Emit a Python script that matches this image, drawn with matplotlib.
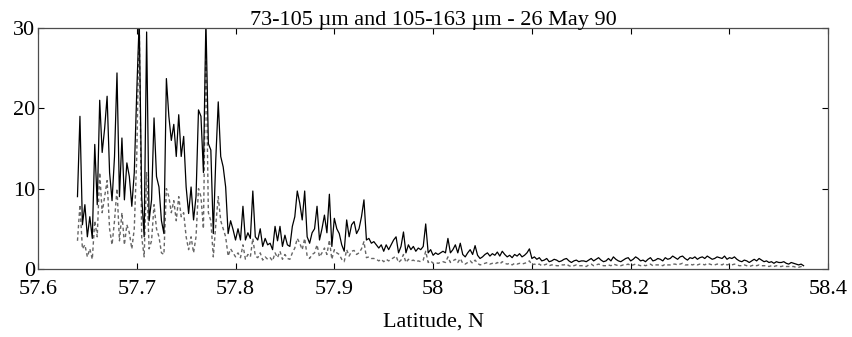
import numpy as np
import matplotlib
matplotlib.use("Agg")
import matplotlib.pyplot as plt

plt.rcParams['font.family'] = ['Liberation Serif', 'DejaVu Serif']

# counts along the transect, one value every 0.0025 deg latitude from 57.64 N
# 73-105 um (solid)
solid = [
    9.0, 19.0, 5.5, 8.0, 4.0, 6.5, 3.8, 15.5, 8.0, 21.0, 14.5, 17.5, 21.5, 12.0, 8.5, 14.0, 24.4, 9.0, 16.3, 8.6,
    13.2, 11.5, 7.8, 12.0, 22.0, 31.0, 9.0, 4.0, 29.5, 6.0, 8.6, 18.8, 11.5, 10.2, 6.0, 4.4, 23.7, 19.0, 16.0, 18.0,
    14.0, 19.2, 14.0, 16.5, 10.2, 6.9, 10.2, 6.1, 9.0, 19.8, 19.0, 12.0, 31.0, 15.6, 14.8, 4.4, 13.6, 20.8, 14.0, 12.7,
    10.2, 4.4, 6.0, 4.9, 3.6, 5.0, 3.6, 7.8, 3.6, 4.5, 3.8, 9.7, 4.0, 3.6, 5.0, 2.8, 3.8, 3.0, 3.2, 2.4,
    5.3, 3.5, 5.3, 2.8, 4.2, 3.0, 2.8, 5.3, 6.5, 9.7, 8.2, 6.1, 9.7, 4.0, 3.2, 4.5, 5.0, 7.8, 3.6, 5.0,
    6.7, 4.5, 9.3, 2.8, 6.3, 5.0, 4.4, 3.0, 2.2, 6.1, 4.0, 5.5, 5.9, 4.4, 5.0, 6.5, 8.6, 3.6, 3.8, 3.2,
    3.4, 3.0, 2.6, 3.0, 2.2, 3.0, 2.4, 3.0, 3.6, 4.0, 2.0, 2.8, 4.6, 2.0, 3.0, 2.4, 2.8, 2.2, 2.6, 2.4,
    2.8, 5.6, 2.0, 2.4, 1.7, 2.0, 1.8, 2.0, 2.2, 2.0, 3.8, 2.0, 2.4, 3.0, 2.0, 3.2, 1.8, 1.5, 2.0, 2.4,
    1.8, 2.9, 1.7, 1.3, 1.5, 1.8, 2.0, 1.6, 1.9, 1.7, 2.1, 1.6, 2.2, 1.8, 1.5, 1.7, 1.4, 1.8, 1.6, 1.9,
    1.5, 1.7, 2.0, 2.5, 1.3, 1.5, 1.2, 1.4, 1.0, 1.1, 1.3, 0.9, 1.0, 1.2, 1.1, 0.9, 1.0, 1.2, 1.3, 1.0,
    0.8, 1.0, 1.1, 0.9, 1.0, 1.0, 0.9, 1.1, 1.3, 1.0, 1.2, 1.4, 1.1, 0.9, 1.0, 1.3, 1.0, 1.5, 1.2, 1.0,
    0.9, 1.1, 1.3, 1.4, 1.0, 1.2, 1.5, 1.3, 1.0, 1.1, 0.9, 1.2, 1.4, 1.0, 1.1, 1.3, 1.2, 1.0, 1.4, 1.2,
    1.3, 1.6, 1.4, 1.2, 1.5, 1.6, 1.3, 1.1, 1.4, 1.3, 1.5, 1.2, 1.4, 1.5, 1.3, 1.6, 1.4, 1.2, 1.3, 1.5,
    1.4, 1.3, 1.6, 1.2, 1.4, 1.3, 1.5, 1.2, 1.0, 0.9, 1.1, 1.0, 0.8, 1.0, 1.2, 1.0, 1.3, 1.1, 0.9, 1.0,
    0.8, 0.9, 0.7, 0.9, 0.8, 0.8, 0.9, 0.7, 0.6, 0.8, 0.7, 0.6, 0.5, 0.6, 0.4,
]

# 105-163 um (dashed)
dashed = [
    3.5, 8.0, 2.5, 3.0, 1.5, 2.5, 1.2, 6.0, 4.0, 12.0, 7.0, 9.0, 11.0, 5.0, 3.0, 6.0, 10.0, 3.5, 7.0, 3.0,
    5.5, 4.5, 2.5, 5.0, 14.0, 31.0, 4.0, 1.5, 12.0, 2.5, 3.5, 8.0, 5.0, 4.0, 2.0, 1.8, 10.0, 9.0, 7.0, 8.5,
    6.0, 9.0, 6.5, 7.0, 4.0, 2.4, 4.0, 2.0, 4.0, 10.0, 9.0, 5.0, 28.0, 7.0, 6.0, 1.5, 5.5, 9.0, 6.0, 5.0,
    4.0, 1.6, 2.5, 2.0, 1.5, 2.0, 1.4, 3.0, 1.2, 1.8, 1.5, 3.8, 1.6, 1.4, 2.0, 1.1, 1.5, 1.2, 1.4, 1.0,
    2.0, 1.4, 2.2, 1.2, 1.8, 1.3, 1.2, 2.0, 2.6, 3.8, 3.2, 2.4, 3.8, 1.6, 1.3, 1.8, 2.0, 3.0, 1.5, 2.0,
    2.6, 1.8, 3.6, 1.2, 2.4, 2.0, 1.8, 1.2, 0.9, 2.4, 1.6, 2.2, 2.3, 1.8, 2.0, 2.5, 3.4, 1.4, 1.5, 1.3,
    1.3, 1.2, 1.0, 1.2, 0.9, 1.2, 1.0, 1.2, 1.4, 1.6, 0.8, 1.1, 1.8, 0.8, 1.2, 1.0, 1.1, 0.9, 1.0, 0.9,
    1.1, 2.2, 0.8, 1.0, 0.7, 0.8, 0.7, 0.8, 0.9, 0.8, 1.5, 0.8, 1.0, 1.2, 0.8, 1.3, 0.7, 0.6, 0.8, 1.0,
    0.7, 1.1, 0.7, 0.5, 0.6, 0.7, 0.8, 0.6, 0.7, 0.6, 0.8, 0.6, 0.9, 0.7, 0.6, 0.7, 0.5, 0.7, 0.6, 0.7,
    0.6, 0.7, 0.8, 1.0, 0.5, 0.6, 0.5, 0.6, 0.4, 0.5, 0.6, 0.4, 0.5, 0.5, 0.4, 0.4, 0.5, 0.5, 0.6, 0.4,
    0.3, 0.4, 0.5, 0.4, 0.4, 0.4, 0.3, 0.5, 0.6, 0.4, 0.5, 0.6, 0.5, 0.4, 0.4, 0.5, 0.4, 0.6, 0.5, 0.4,
    0.4, 0.5, 0.5, 0.6, 0.4, 0.5, 0.6, 0.5, 0.4, 0.5, 0.4, 0.5, 0.6, 0.4, 0.5, 0.5, 0.5, 0.4, 0.6, 0.5,
    0.5, 0.6, 0.6, 0.5, 0.6, 0.7, 0.5, 0.5, 0.6, 0.5, 0.6, 0.5, 0.6, 0.6, 0.5, 0.7, 0.6, 0.5, 0.5, 0.6,
    0.6, 0.5, 0.7, 0.5, 0.6, 0.5, 0.6, 0.5, 0.4, 0.4, 0.5, 0.4, 0.3, 0.4, 0.5, 0.4, 0.5, 0.4, 0.4, 0.4,
    0.3, 0.4, 0.3, 0.4, 0.3, 0.3, 0.4, 0.3, 0.3, 0.3, 0.3, 0.2, 0.2, 0.3, 0.2,
]

lat = np.round(57.64 + 0.0025 * np.arange(len(solid)), 4)

xticks = [57.6, 57.7, 57.8, 57.9, 58.0, 58.1, 58.2, 58.3, 58.4]
xticklabels = ["57.6", "57.7", "57.8", "57.9", "58", "58.1", "58.2", "58.3", "58.4"]
yticks = [0, 10, 20, 30]

fig = plt.figure(figsize=(8.53, 3.37), dpi=100)
ax = fig.add_axes([0.0445, 0.202, 0.9265, 0.715])

ax.plot(lat, dashed, color="0.4", lw=1.0, ls=(0, (2.5, 2)))
ax.plot(lat, solid, color="black", lw=0.9)

ax.set_xlim(57.6, 58.4)
ax.set_ylim(0, 30)
ax.set_xticks(xticks)
ax.set_xticklabels(xticklabels)
ax.set_yticks(yticks)
ax.tick_params(direction="in", top=True, right=True, length=4, width=0.8,
               labelsize=16)
ax.tick_params(axis="x", pad=8)
ax.tick_params(axis="y", pad=2)
for s in ax.spines.values():
    s.set_linewidth(0.9)
    s.set_color("0.3")

ax.set_title("73-105 µm and 105-163 µm - 26 May 90", fontsize=16, pad=2)
ax.set_xlabel("Latitude, N", fontsize=16, labelpad=10)

fig.savefig("out.png", dpi=100)
